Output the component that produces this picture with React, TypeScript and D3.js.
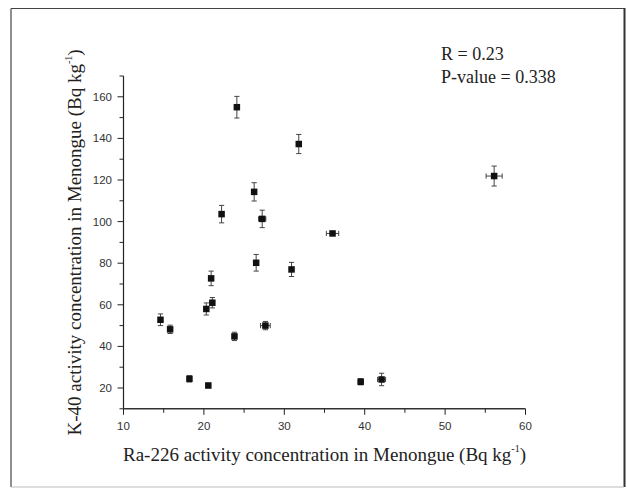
import React from "react";
import * as d3 from "d3";

const raValues = [24.1, 31.8, 26.25, 22.2, 27.25, 26.5, 30.9, 20.9, 21.05, 20.3, 14.6, 15.8, 27.65, 23.8, 18.2, 20.55, 56.1, 36.0, 39.5, 42.1];
const kValues = [155, 137.3, 114.3, 103.6, 101.3, 80.2, 77.0, 72.7, 61.0, 58.0, 52.8, 48.2, 50.0, 44.8, 24.4, 21.2, 121.9, 94.3, 23.0, 24.1];
const kErrors = [5.2, 4.6, 4.4, 4.2, 4.2, 4.0, 3.4, 3.5, 2.5, 2.9, 2.8, 2.0, 2.0, 2.0, 1.5, 1.0, 4.8, 0.5, 1.5, 3.0];
const raErrors = [0, 0, 0, 0, 0.45, 0, 0, 0, 0, 0, 0, 0, 0.6, 0, 0, 0, 1.0, 0.77, 0.3, 0.5];

const xTicks = [10, 20, 30, 40, 50, 60];
const xMinorTicks = [15, 25, 35, 45, 55];
const yTicks = [20, 40, 60, 80, 100, 120, 140, 160];
const yMinorTicks = [10, 30, 50, 70, 90, 110, 130, 150, 170];

const statLines = ["R = 0.23", "P-value = 0.338"];

export default function App() {
  const W = 627, H = 491;
  const x = d3.scaleLinear().domain([10, 60]).range([123.5, 525.5]);
  const y = d3.scaleLinear().domain([10, 170]).range([408.8, 76]);
  const sans = "'Liberation Sans', Arial, sans-serif";
  const serif = "'Liberation Serif', 'Times New Roman', serif";
  const ink = "#222";
  const ms = 6.5;
  const cap = 2.6;

  return (
    <div style={{ position: "absolute", left: 0, top: 0 }}>
      <svg width={W} height={H} style={{ display: "block", background: "#fff" }}>
        {/* frame */}
        <line x1={11} y1={8.5} x2={624} y2={8.5} stroke="#444" strokeWidth={1} />
        <line x1={11} y1={8.5} x2={11} y2={487} stroke="#444" strokeWidth={1.2} />
        <line x1={624.5} y1={8} x2={624.5} y2={487} stroke="#333" strokeWidth={2} />
        <line x1={11} y1={487} x2={624} y2={487} stroke="#bbb" strokeWidth={1} />

        {/* axes */}
        <line x1={x(10)} y1={y(10)} x2={x(60)} y2={y(10)} stroke="#333" strokeWidth={1.4} />
        <line x1={x(10)} y1={y(10)} x2={x(10)} y2={y(170)} stroke="#222" strokeWidth={1.2} />

        {xTicks.map((t) => (
          <g key={"xt" + t}>
            <line x1={x(t)} x2={x(t)} y1={y(10)} y2={y(10) + 6} stroke="#222" strokeWidth={1} />
            <text x={x(t)} y={429.5} textAnchor="middle" fontFamily={sans} fontSize={11.5} fill="#333">{t}</text>
          </g>
        ))}
        {xMinorTicks.map((t) => (
          <line key={"xm" + t} x1={x(t)} x2={x(t)} y1={y(10)} y2={y(10) + 4} stroke="#222" strokeWidth={1} />
        ))}
        {yTicks.map((t) => (
          <g key={"yt" + t}>
            <line x1={x(10) - 6} x2={x(10)} y1={y(t)} y2={y(t)} stroke="#222" strokeWidth={1} />
            <text x={112} y={y(t) + 4} textAnchor="end" fontFamily={sans} fontSize={11.5} fill="#333">{t}</text>
          </g>
        ))}
        {yMinorTicks.map((t) => (
          <line key={"ym" + t} x1={x(10) - 4} x2={x(10)} y1={y(t)} y2={y(t)} stroke="#222" strokeWidth={1} />
        ))}

        {/* error bars and markers */}
        {raValues.map((rv, i) => {
          const cx = x(rv), cy = y(kValues[i]);
          const yTop = y(kValues[i] + kErrors[i]);
          const yBot = y(kValues[i] - kErrors[i]);
          const xl = x(rv - raErrors[i]);
          const xr = x(rv + raErrors[i]);
          return (
            <g key={"p" + i}>
              <line x1={cx} x2={cx} y1={yTop} y2={yBot} stroke="#444" strokeWidth={1} />
              <line x1={cx - cap} x2={cx + cap} y1={yTop} y2={yTop} stroke="#444" strokeWidth={1} />
              <line x1={cx - cap} x2={cx + cap} y1={yBot} y2={yBot} stroke="#444" strokeWidth={1} />
              {raErrors[i] > 0 && (
                <g>
                  <line x1={xl} x2={xr} y1={cy} y2={cy} stroke="#444" strokeWidth={1} />
                  <line x1={xl} x2={xl} y1={cy - cap} y2={cy + cap} stroke="#444" strokeWidth={1} />
                  <line x1={xr} x2={xr} y1={cy - cap} y2={cy + cap} stroke="#444" strokeWidth={1} />
                </g>
              )}
              <rect x={cx - ms / 2} y={cy - ms / 2} width={ms} height={ms} fill="#111" />
            </g>
          );
        })}

        {/* stats */}
        {statLines.map((s, i) => (
          <text key={"s" + i} x={441} y={60 + i * 23} fontFamily={serif} fontSize={18} fill={ink}>{s}</text>
        ))}

        {/* axis titles */}
        <text x={(x(10) + x(60)) / 2} y={461} textAnchor="middle" fontFamily={serif} fontSize={19} fill={ink}>
          Ra-226 activity concentration in Menongue (Bq kg
          <tspan fontSize={10} dy={-9}>-1</tspan>
          <tspan dy={9}>)</tspan>
        </text>
        <text transform={`translate(81, ${(y(10) + y(170)) / 2}) rotate(-90)`} textAnchor="middle" fontFamily={serif} fontSize={19} fill={ink}>
          K-40 activity concentration in Menongue (Bq kg
          <tspan fontSize={10} dy={-9}>-1</tspan>
          <tspan dy={9}>)</tspan>
        </text>
      </svg>
    </div>
  );
}
